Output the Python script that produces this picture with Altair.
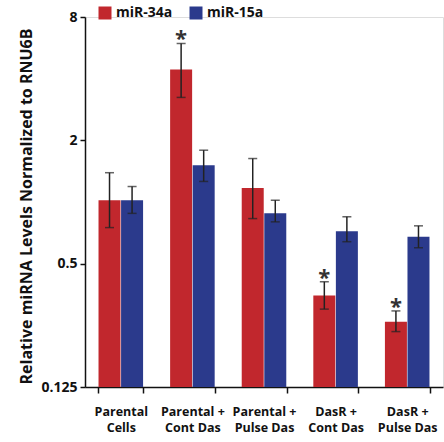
import altair as alt
import pandas as pd

groups = ["Parental\nCells", "Parental +\nCont Das", "Parental +\nPulse Das", "DasR +\nCont Das", "DasR +\nPulse Das"]
series = ["miR-34a", "miR-15a"]
mir34a = [1.02, 4.43, 1.17, 0.35, 0.26]
mir34a_lo = [0.75, 3.24, 0.83, 0.30, 0.233]
mir34a_hi = [1.39, 5.94, 1.63, 0.408, 0.294]
mir15a = [1.02, 1.51, 0.88, 0.72, 0.676]
mir15a_lo = [0.88, 1.26, 0.80, 0.64, 0.598]
mir15a_hi = [1.19, 1.79, 1.02, 0.847, 0.765]
signif34a = [False, True, False, True, True]
y_ticks = [0.125, 0.5, 2, 8]
colors = ["#C1272D", "#2B3A8C"]

rows = []
for i, g in enumerate(groups):
    rows.append({"group": g, "series": series[0], "value": mir34a[i], "lo": mir34a_lo[i], "hi": mir34a_hi[i], "star": "*" if signif34a[i] else ""})
    rows.append({"group": g, "series": series[1], "value": mir15a[i], "lo": mir15a_lo[i], "hi": mir15a_hi[i], "star": ""})
df = pd.DataFrame(rows)

FONT = "Open Sans"

x_enc = alt.X("group:N", sort=groups,
              scale=alt.Scale(paddingInner=0.37, paddingOuter=0.185),
              axis=alt.Axis(title=None, labelAngle=0, labelExpr="split(datum.label, '\\n')",
                            labelFont=FONT, labelFontWeight="bold", labelFontSize=12.5,
                            labelColor="#111", labelPadding=12, labelLineHeight=16,
                            labelBaseline="top",
                            tickBand="extent", tickSize=6, tickColor="#111", tickWidth=1.5,
                            domainColor="#111", domainWidth=1.5))
xo = alt.XOffset("series:N", sort=series)
y_scale = alt.Scale(type="log", base=2, domain=[0.125, 8])

base = alt.Chart(df)

bars = base.mark_bar(size=22).encode(
    x=x_enc, xOffset=xo,
    y=alt.Y("value:Q", scale=y_scale,
            axis=alt.Axis(values=y_ticks, labelExpr="datum.value == 0.125 ? '0.125' : datum.label",
                          title="Relative miRNA Levels Normalized to RNU6B",
                          titleFont=FONT, titleFontWeight="bold", titleFontSize=16, titleColor="#111",
                          titlePadding=6, titleY=189,
                          labelFont=FONT, labelFontWeight="bold", labelFontSize=14, labelColor="#111",
                          grid=False, tickSize=5, tickColor="#111", tickWidth=1.5,
                          domainColor="#111", domainWidth=1.5, labelPadding=3)),
    y2=alt.datum(0.125),
    color=alt.Color("series:N", sort=series, scale=alt.Scale(domain=series, range=colors),
                    legend=alt.Legend(title=None, orient="none", legendX=13, legendY=-11,
                                      direction="horizontal", symbolType="square", symbolSize=169,
                                      symbolStrokeWidth=0, symbolOpacity=1,
                                      labelFont=FONT, labelFontWeight="bold", labelFontSize=14,
                                      labelColor="#111", columnPadding=16, labelOffset=4, padding=0)),
)

err = base.mark_rule(color="#222", strokeWidth=1.5).encode(
    x=alt.X("group:N", sort=groups), xOffset=xo,
    y=alt.Y("lo:Q", scale=y_scale), y2="hi:Q",
)
cap_hi = base.mark_tick(color="#222", thickness=1.5, size=9, orient="horizontal").encode(
    x=alt.X("group:N", sort=groups), xOffset=xo, y=alt.Y("hi:Q", scale=y_scale))
cap_lo = base.mark_tick(color="#222", thickness=1.5, size=9, orient="horizontal").encode(
    x=alt.X("group:N", sort=groups), xOffset=xo, y=alt.Y("lo:Q", scale=y_scale))

stars = base.mark_text(font=FONT, fontWeight="bold", fontSize=22, color="#333",
                       baseline="alphabetic", dy=3).encode(
    x=alt.X("group:N", sort=groups), xOffset=xo,
    y=alt.Y("hi:Q", scale=y_scale), text="star:N")

chart = alt.layer(bars, err, cap_hi, cap_lo, stars).properties(
    width=358, height=370,
    autosize=alt.AutoSizeParams(type="none"),
    padding={"left": 85, "top": 17, "right": 1, "bottom": 55},
).configure_view(stroke=None).configure(background="white")

chart.save("out.html", embed_options={"renderer": "svg", "actions": False})
